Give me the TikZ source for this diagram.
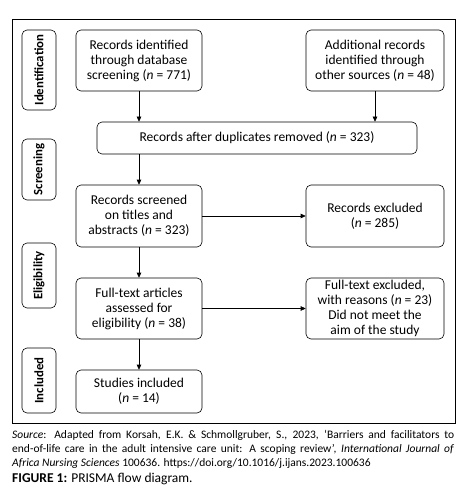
\documentclass[tikz,border=0pt]{standalone}
\usepackage{fontspec}
\setmainfont{Carlito}
\usetikzlibrary{arrows.meta}
\begin{document}
\begin{tikzpicture}[x=1pt,y=-1pt,
  box/.style={draw, rounded corners=5pt, align=center, inner sep=1pt, line width=0.6pt,
    font=\fontsize{13.5}{15}\selectfont},
  side/.style={draw, rounded corners=5pt, align=center, inner sep=0pt, line width=0.6pt,
    minimum width=34pt},
  sidet/.style={rotate=90, font=\fontsize{12.8}{14}\selectfont\bfseries},
  arr/.style={-{Triangle[length=5pt,width=4.5pt]}, line width=0.6pt}]
\useasboundingbox (0,0) rectangle (467,497);
\node[draw, line width=0.6pt, minimum width=443pt, minimum height=404pt, inner sep=0pt] (frame) at (233.5,221) {};
% side labels
\node[side, minimum height=80pt] (ident) at (39,70) {};
\node[sidet] (identt) at (ident.center) {Identification};
\node[side, minimum height=61pt] (scr) at (39,169.5) {};
\node[sidet] (scrt) at (scr.center) {Screening};
\node[side, minimum height=65pt] (elig) at (39,275.5) {};
\node[sidet] (eligt) at (elig.center) {Eligibility};
\node[side, minimum height=65pt] (incl) at (39,380.5) {};
\node[sidet] (inclt) at (incl.center) {Included};
% boxes
\node[box, minimum width=126pt, minimum height=61pt] (b1) at (139,60.5) {Records identified\\through database\\screening (\textit{n} = 771)};
\node[box, minimum width=138pt, minimum height=61pt] (b2) at (375,60.5) {Additional records\\identified through\\other sources (\textit{n} = 48)};
\node[box, minimum width=320pt, minimum height=32pt] (b3) at (257,138) {Records after duplicates removed (\textit{n} = 323)};
\node[box, minimum width=126pt, minimum height=62pt] (b4) at (139,216) {Records screened\\on titles and\\abstracts (\textit{n} = 323)};
\node[box, minimum width=138pt, minimum height=62pt] (b5) at (375,216) {Records excluded\\(\textit{n} = 285)};
\node[box, minimum width=126pt, minimum height=61pt] (b6) at (139,308.5) {Full-text articles\\assessed for\\eligibility (\textit{n} = 38)};
\node[box, minimum width=138pt, minimum height=61pt] (b7) at (375,308.5) {Full-text excluded,\\with reasons (\textit{n} = 23)\\Did not meet the\\aim of the study};
\node[box, minimum width=126pt, minimum height=43pt] (b8) at (139,391.5) {Studies included\\(\textit{n} = 14)};
% arrows
\draw[arr] (b1.south) -- (b1.south |- b3.north);
\draw[arr] (b2.south) -- (b2.south |- b3.north);
\draw[arr] (b3.south -| b1.south) -- (b4.north);
\draw[arr] (b4.east) -- (b5.west);
\draw[arr] (b4.south) -- (b6.north);
\draw[arr] (b6.east) -- (b7.west);
\draw[arr] (b6.south) -- (b8.north);
% caption
\node[anchor=north west, inner sep=0pt, text width=442pt, align=justify,
  font=\fontsize{11.5}{14}\selectfont] (src) at (12,430) {\textit{Source}: Adapted from Korsah, E.K. \& Schmollgruber, S., 2023, ‘Barriers and facilitators to\linebreak end-of-life care in the adult intensive care unit: A scoping review’, \textit{International Journal of}\linebreak \textit{Africa Nursing Sciences} 100636. https://doi.org/10.1016/j.ijans.2023.100636};
\node[anchor=north west, inner sep=0pt, font=\fontsize{13.5}{15}\selectfont] (fig) at (12,473) {\textbf{FIGURE 1:} PRISMA flow diagram.};
\end{tikzpicture}
\end{document}
